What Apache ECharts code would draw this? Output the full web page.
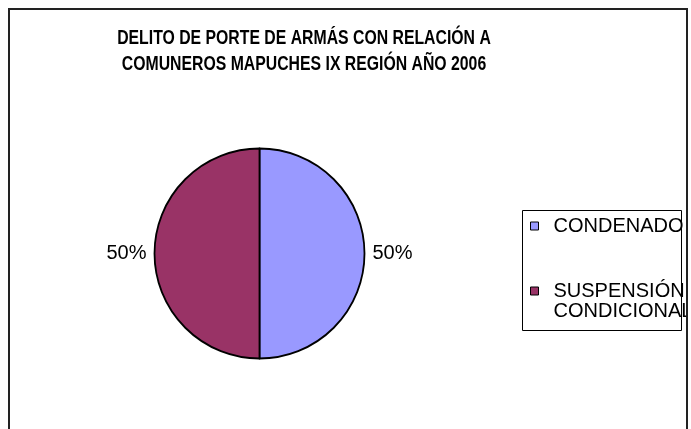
<!DOCTYPE html>
<html>
<head>
<meta charset="utf-8">
<script src="https://cdn.jsdelivr.net/npm/echarts@6/dist/echarts.min.js"></script>
<style>
html,body{margin:0;padding:0;background:#fff;}
#chart{width:691px;height:429px;}
</style>
</head>
<body>
<div id="chart"></div>
<script>
var titleLines = ['DELITO DE PORTE DE ARMÁS CON RELACIÓN A', 'COMUNEROS MAPUCHES IX REGIÓN AÑO 2006'];
var categories = ['CONDENADO', 'SUSPENSIÓN CONDICIONAL'];
var values = [50, 50];
var colors = ['#9999FF', '#993366'];

var chart = echarts.init(document.getElementById('chart'));
var FONT = '"Liberation Sans", Arial, sans-serif';

var option = {
  backgroundColor: '#ffffff',
  animation: false,
  legend: {
    orient: 'vertical',
    left: 530,
    top: 216,
    padding: 0,
    itemGap: 25,
    itemWidth: 8,
    itemHeight: 8,
    icon: 'rect',
    selectedMode: false,
    itemStyle: { borderColor: '#000', borderWidth: 1 },
    formatter: function (name) {
      return name.indexOf(' ') >= 0 ? '\n' + name.replace(' ', '\n') : name;
    },
    textStyle: { fontFamily: FONT, fontSize: 20, lineHeight: 20, color: '#000', padding: [0, 0, 0, 10] },
    data: categories
  },
  graphic: [
    { type: 'text', z: 50, silent: true, x: 304, y: 25, scaleX: 0.79,
      style: {
        text: titleLines.join('\n'),
        textAlign: 'center',
        textVerticalAlign: 'top',
        verticalAlign: 'top',
        fontFamily: FONT,
        fontWeight: 'bold',
        fontSize: 20,
        lineHeight: 26,
        fill: '#000'
      } },
    { type: 'rect', z: 100, silent: true, shape: { x: 522.5, y: 210.5, width: 159, height: 120 },
      style: { fill: null, stroke: '#000', lineWidth: 1 } },
    { type: 'rect', z: 101, silent: true, shape: { x: 688, y: 0, width: 10, height: 429 },
      style: { fill: '#fff', stroke: null } },
    { type: 'rect', z: 102, silent: true, shape: { x: 9, y: 9, width: 678, height: 440 },
      style: { fill: null, stroke: '#222', lineWidth: 2 } }
  ],
  series: [{
    type: 'pie',
    center: [259.5, 253.5],
    radius: 105,
    startAngle: 90,
    clockwise: true,
    avoidLabelOverlap: false,
    color: colors,
    itemStyle: { borderColor: '#000', borderWidth: 1.8 },
    label: {
      show: true,
      position: 'outside',
      formatter: '{d}%',
      fontFamily: FONT,
      fontSize: 20,
      color: '#000',
      distanceToLabelLine: 4
    },
    labelLine: { show: false, length: 4, length2: 0 },
    emphasis: { disabled: true },
    data: categories.map(function (c, i) { return { name: c, value: values[i] }; })
  }]
};
chart.setOption(option);
</script>
</body>
</html>
